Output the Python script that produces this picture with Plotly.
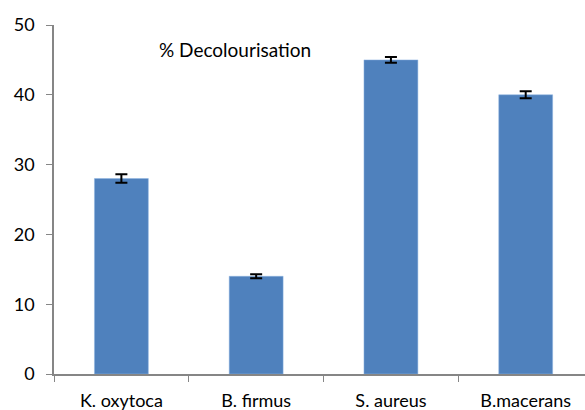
import plotly.graph_objects as go

categories = ["K. oxytoca", "B. firmus", "S. aureus", "B.macerans"]
values = [28, 14, 45, 40]
errors = [0.6, 0.3, 0.4, 0.5]
y_ticks = [0, 10, 20, 30, 40, 50]

font_family = "Lato, Liberation Sans, Arial, sans-serif"
axis_color = "#868686"

L, R, T, B = 54, 0, 25, 36
W, H = 585, 410
plot_w = W - L - R
plot_h = H - T - B

fig = go.Figure()
fig.add_trace(go.Bar(
    x=categories, y=values,
    marker=dict(color="#4F81BD", line=dict(color="#8EB4E3", width=0.5)),
    width=0.4,
    error_y=dict(type="data", array=errors, visible=True, color="black",
                 thickness=2, width=6),
))

fig.update_layout(
    width=W, height=H,
    margin=dict(l=L, r=R, t=T, b=B, pad=0),
    paper_bgcolor="white", plot_bgcolor="white",
    showlegend=False,
    font=dict(family=font_family, color="black"),
    xaxis=dict(
        type="category", range=[-0.5, 3.44], automargin=False,
        showline=True, linecolor=axis_color, linewidth=1.5,
        ticks="outside", tickson="boundaries", ticklen=6, tickcolor=axis_color,
        ticklabelstandoff=10,
        tickfont=dict(size=18, family=font_family, color="black"),
        showgrid=False,
    ),
    yaxis=dict(
        range=[0, 50], tickvals=y_ticks, automargin=False,
        showline=True, linecolor=axis_color, linewidth=1.5,
        ticks="outside", ticklen=6, tickcolor=axis_color,
        ticklabelstandoff=8,
        tickfont=dict(size=18, family=font_family, color="black"),
        showgrid=False, zeroline=False,
    ),
    annotations=[dict(
        text="% Decolourisation",
        x=(235 - L) / plot_w, y=(H - B - 50) / plot_h,
        xref="paper", yref="paper", xanchor="center", yanchor="middle",
        showarrow=False, font=dict(size=19, family=font_family, color="black"),
    )],
)

fig.write_html(
    "out.html",
    config={"displayModeBar": False},
    post_script="document.body.style.margin='0';document.body.style.overflow='hidden';",
)
